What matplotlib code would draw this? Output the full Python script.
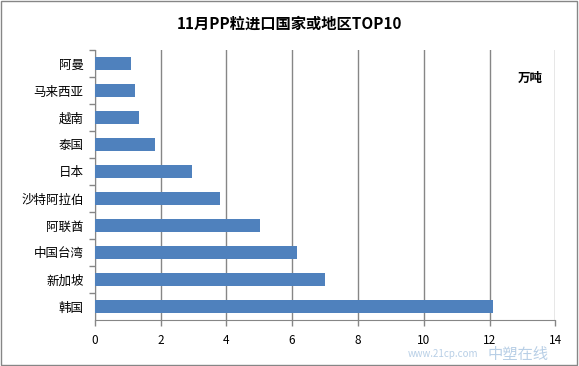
import matplotlib
matplotlib.use('Agg')
import matplotlib.pyplot as plt
from matplotlib.patches import Rectangle

plt.rcParams['font.family'] = ['Noto Sans CJK SC', 'DejaVu Sans']

# data, top to bottom as shown
regions = ['阿曼', '马来西亚', '越南', '泰国', '日本', '沙特阿拉伯', '阿联酋', '中国台湾', '新加坡', '韩国']
volumes = [1.10, 1.23, 1.35, 1.83, 2.96, 3.81, 5.03, 6.15, 7.00, 12.10]
xticks = [0, 2, 4, 6, 8, 10, 12, 14]

fig = plt.figure(figsize=(5.79, 3.66), dpi=100)
ax = fig.add_axes([0.1636, 0.1257, 0.7955, 0.7377])

pos = list(range(len(regions)))[::-1]
ax.barh(pos, volumes, height=0.45, color='#4f81bd', zorder=3)

ax.set_xlim(0, 14)
ax.set_ylim(-0.5, len(regions) - 0.5)
ax.set_xticks(xticks)
ax.set_xticklabels([str(t) for t in xticks], fontsize=8.5)
ax.set_yticks(pos)
ax.set_yticklabels(regions, fontsize=9)
ax.set_yticks([p + 0.5 for p in range(len(regions))], minor=True)
ax.tick_params(axis='y', which='major', length=0, pad=8)
ax.tick_params(axis='y', which='minor', length=4, color='#868686', width=1)
ax.tick_params(axis='x', length=4, color='#868686', width=1, pad=6)

ax.grid(axis='x', color='#868686', linewidth=1, zorder=0)
for s in ['top', 'right']:
    ax.spines[s].set_visible(False)
for s in ['left', 'bottom']:
    ax.spines[s].set_color('#868686')

fig.text(0.5, 0.935, '11月PP粒进口国家或地区TOP10', ha='center', va='center',
         fontsize=11, fontweight='bold')
fig.text(0.915, 0.787, '万吨', ha='center', va='center', fontsize=9, fontweight='bold')

# watermark, kept below the tick labels
fig.text(0.895, 0.032, '中塑在线', ha='center', va='center', fontsize=11,
         fontstyle='italic', color='#b8cfe6')
fig.text(0.765, 0.032, 'www.21cp.com', ha='center', va='center', fontsize=7,
         fontstyle='italic', color='#b8cfe6')

fig.patches.append(Rectangle((0.002, 0.003), 0.995, 0.993, transform=fig.transFigure,
                             fill=False, edgecolor='#868686', linewidth=1))

fig.savefig('out.png', dpi=100)
